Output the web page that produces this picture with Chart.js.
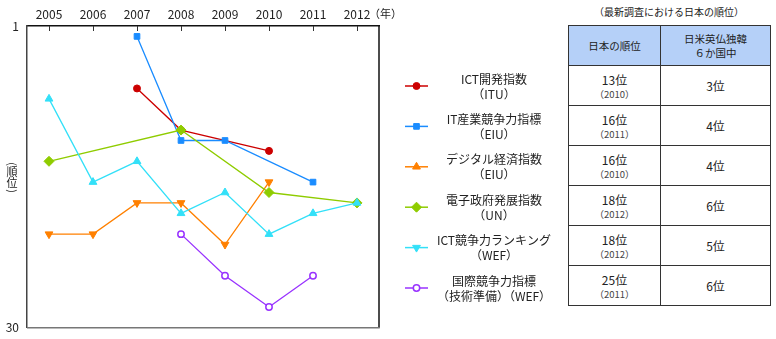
<!DOCTYPE html>
<html>
<head>
<meta charset="utf-8">
<script src="https://cdn.jsdelivr.net/npm/chart.js@4"></script>
<style>
  body { margin: 0; background: #fff; font-family: "Noto Sans CJK JP", sans-serif; }
  #wrap { position: relative; width: 776px; height: 339px; overflow: hidden; }
  #chartBox { position: absolute; left: 0; top: 0; width: 560px; height: 343px; }
  #caption { position: absolute; left: 568px; top: 4px; width: 202px; text-align: center; font-size: 10px; color: #222; }
  #rankTable { position: absolute; left: 568px; top: 25px; width: 203px; border-collapse: collapse; font-size: 12px; color: #222; }
  #rankTable td, #rankTable th { border: 1.5px solid #333; text-align: center; padding: 0; height: 39px; font-weight: normal; }
  #rankTable th { background: #b5d0f8; font-size: 10.5px; line-height: 14px; }
  #rankTable .yr { font-size: 9.5px; color: #444; display: block; line-height: 13px; }
</style>
</head>
<body>
<div id="wrap">
  <div id="chartBox"><canvas id="rankChart"></canvas></div>
  <div id="caption">（最新調査における日本の順位）</div>
  <table id="rankTable"></table>
</div>
<script>
const years = [2005, 2006, 2007, 2008, 2009, 2010, 2011, 2012];

// rank per year (null = no survey)
const ituIdi = [null, null, 7, 11, null, 13, null, null];
const eiuIt = [null, null, 2, 12, 12, null, 16, null];
const eiuDigital = [21, 21, 18, 18, 22, 16, null, null];
const unEgov = [14, null, null, 11, null, 17, null, 18];
const wefIct = [8, 16, 14, 19, 17, 21, 19, 18];
const wefGci = [null, null, null, 21, 25, 28, 25, null];

const seriesNames = [
  ["ICT開発指数", "（ITU）"],
  ["IT産業競争力指標", "（EIU）"],
  ["デジタル経済指数", "（EIU）"],
  ["電子政府発展指数", "（UN）"],
  ["ICT競争力ランキング", "（WEF）"],
  ["国際競争力指標", "（技術準備）（WEF）"]
];
const seriesColors = ["#cc0000", "#1a8cff", "#ff8000", "#8fcc00", "#33e0f8", "#9933ff"];
const seriesStyles = ["circle", "rect", "triangle", "rectRot", "triangle", "circle"];
const seriesRotation = [0, 0, 180, 0, 0, 0];
const legendRotation = [0, 0, 0, 0, 180, 0];

// table on the right
const tableHead = ["日本の順位", "日米英仏独韓<br>６か国中"];
const latestRank = ["13位", "16位", "16位", "18位", "18位", "25位"];
const latestYear = ["（2010）", "（2011）", "（2010）", "（2012）", "（2012）", "（2011）"];
const rankOfSix = ["3位", "4位", "4位", "6位", "5位", "6位"];

const FONT = '"Noto Sans CJK JP", sans-serif';

let tableHtml = "<tr><th>" + tableHead[0] + "</th><th>" + tableHead[1] + "</th></tr>";
latestRank.forEach((r, i) => {
  tableHtml += "<tr><td>" + r + '<span class="yr">' + latestYear[i] + "</span></td><td>" + rankOfSix[i] + "</td></tr>";
});
document.getElementById("rankTable").innerHTML = tableHtml;

const allSeries = [ituIdi, eiuIt, eiuDigital, unEgov, wefIct, wefGci];

const toPoints = arr => years
  .map((yr, i) => ({ x: yr, y: arr[i] }))
  .filter(p => p.y !== null);

const pointSize = { circle: 3.5, rect: 4, triangle: 4.5, rectRot: 5 };

const datasets = allSeries.map((arr, i) => ({
  label: seriesNames[i].join(""),
  data: toPoints(arr),
  borderColor: seriesColors[i],
  backgroundColor: seriesColors[i],
  pointBackgroundColor: i === 5 ? "#ffffff" : seriesColors[i],
  pointBorderColor: seriesColors[i],
  pointBorderWidth: i === 5 ? 1.5 : 1,
  pointStyle: seriesStyles[i],
  pointRotation: seriesRotation[i],
  pointRadius: i === 5 ? 3.2 : pointSize[seriesStyles[i]],
  borderWidth: 1.3,
  tension: 0,
  order: 6 - i
}));

// frame, inward tick marks, (年), vertical axis title, side legend
const extras = {
  id: "extras",
  beforeDatasetsDraw(chart) {
    const { ctx, chartArea: a } = chart;
    const xs = chart.scales.x;
    ctx.save();
    ctx.strokeStyle = "#333";
    ctx.lineWidth = 1;
    years.forEach(yr => {
      const px = Math.round(xs.getPixelForValue(yr)) + 0.5;
      ctx.beginPath();
      ctx.moveTo(px, a.top);
      ctx.lineTo(px, a.top + 5);
      ctx.stroke();
    });
    ctx.restore();
  },
  afterDraw(chart) {
    const { ctx, chartArea: a } = chart;
    ctx.save();
    // right and bottom edges
    ctx.lineWidth = 1.5;
    ctx.strokeStyle = "#111";
    ctx.beginPath();
    ctx.moveTo(a.right, a.top);
    ctx.lineTo(a.right, a.bottom);
    ctx.stroke();
    ctx.strokeStyle = "#777";
    ctx.beginPath();
    ctx.moveTo(a.left, a.bottom);
    ctx.lineTo(a.right + 0.75, a.bottom);
    ctx.stroke();

    ctx.fillStyle = "#222";
    ctx.textBaseline = "middle";
    ctx.font = "11px " + FONT;
    ctx.textAlign = "left";
    ctx.fillText("（年）", 369, 14);

    // vertical axis title, characters upright
    ctx.font = "11px " + FONT;
    ctx.textAlign = "center";
    ctx.fillText("順", 12, 172);
    ctx.fillText("位", 12, 183);
    [["(", 164], [")", 191]].forEach(([ch, py]) => {
      ctx.save();
      ctx.translate(12, py);
      ctx.rotate(Math.PI / 2);
      ctx.fillText(ch, 0, 0);
      ctx.restore();
    });

    // legend
    chart.data.datasets.forEach((ds, i) => {
      const y = 86 + i * 40.4;
      ctx.strokeStyle = ds.borderColor;
      ctx.lineWidth = 1.5;
      ctx.beginPath();
      ctx.moveTo(405, y);
      ctx.lineTo(428, y);
      ctx.stroke();
      ctx.fillStyle = ds.pointBackgroundColor;
      ctx.strokeStyle = ds.pointBorderColor;
      ctx.lineWidth = ds.pointBorderWidth;
      Chart.helpers.drawPoint(ctx, {
        pointStyle: ds.pointStyle,
        radius: ds.pointRadius,
        rotation: legendRotation[i],
        borderWidth: ds.pointBorderWidth
      }, 416.5, y);
      ctx.fillStyle = "#222";
      ctx.font = "12px " + FONT;
      ctx.textAlign = "center";
      ctx.fillText(seriesNames[i][0], 494, y - 7);
      ctx.fillText(seriesNames[i][1], 494, y + 8);
    });
    ctx.restore();
  }
};

const ctx = document.getElementById("rankChart");

const rankChart = new Chart(ctx, {
  type: "line",
  data: { datasets },
  plugins: [extras],
  options: {
    responsive: true,
    maintainAspectRatio: false,
    animation: false,
    layout: {
      padding: { left: 6, right: 181, top: 9, bottom: 0 }
    },
    plugins: {
      legend: { display: false },
      tooltip: { enabled: false }
    },
    scales: {
      x: {
        type: "linear",
        position: "top",
        min: 2004.5,
        max: 2012.5,
        afterBuildTicks: scale => {
          scale.ticks = years.map(v => ({ value: v }));
        },
        afterFit: scale => {
          scale.height = 17;
        },
        ticks: {
          color: "#222",
          padding: 4,
          maxRotation: 0,
          font: { family: FONT, size: 12 },
          callback: v => String(v)
        },
        grid: { display: false, drawTicks: false },
        border: { display: true, color: "#111", width: 1.5 }
      },
      y: {
        type: "linear",
        reverse: true,
        min: 1,
        max: 30,
        afterBuildTicks: scale => {
          scale.ticks = [{ value: 1 }, { value: 30 }];
        },
        afterFit: scale => {
          scale.width = 21;
        },
        ticks: {
          color: "#222",
          padding: 8,
          font: { family: FONT, size: 12 }
        },
        grid: { display: false, drawTicks: false },
        border: { display: true, color: "#444", width: 1.5 }
      }
    }
  }
});
</script>
</body>
</html>
